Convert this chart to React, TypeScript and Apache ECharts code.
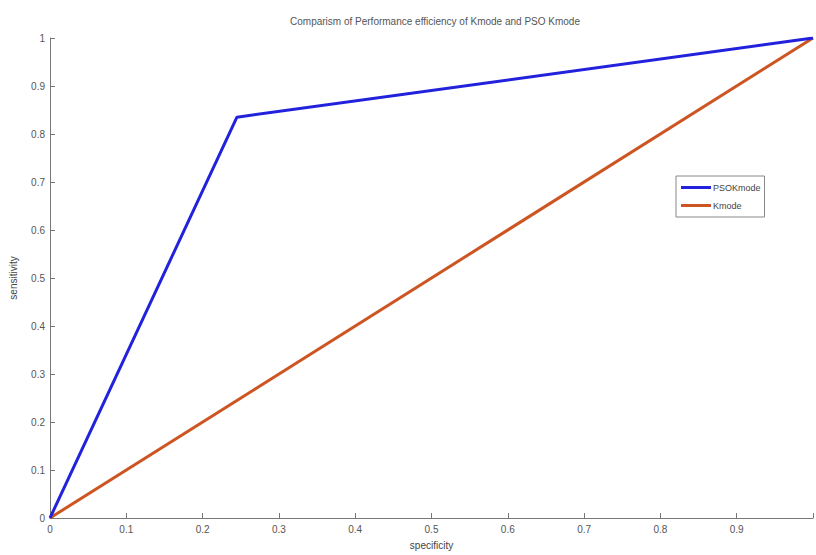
import React, { useEffect, useRef } from "react";
import * as echarts from "echarts";

const titleText = "Comparism of Performance efficiency of Kmode and PSO Kmode";
const xName = "specificity";
const yName = "sensitivity";
const psoX = [0, 0.245, 1];
const psoY = [0, 0.835, 1];
const kmodeX = [0, 1];
const kmodeY = [0, 1];
const seriesNames = ["PSOKmode", "Kmode"];

export default function App() {
  const ref = useRef<HTMLDivElement>(null);
  useEffect(() => {
    if (!ref.current) return;
    const chart = echarts.init(ref.current, undefined, { renderer: "svg" });
    const font = "'Liberation Sans Narrow', 'Liberation Sans', Arial, sans-serif";
    chart.setOption({
      animation: false,
      backgroundColor: "#ffffff",
      textStyle: { fontFamily: font },
      title: {
        text: titleText,
        left: 430,
        textAlign: "center",
        top: 11,
        textStyle: { fontSize: 10, fontWeight: "normal", color: "#555", fontFamily: font },
      },
      legend: {
        data: seriesNames,
        orient: "vertical",
        left: 676,
        top: 176,
        itemWidth: 30,
        itemHeight: 3,
        itemGap: 9,
        padding: [7, 4, 7, 5],
        borderColor: "#888",
        borderWidth: 1,
        icon: "rect",
        textStyle: { fontSize: 9, color: "#444", fontFamily: font, padding: [0, 0, 0, -3] },
      },
      grid: { left: 47, right: 1, top: 38, bottom: 34, containLabel: false },
      xAxis: {
        type: "value",
        min: 0,
        max: 1,
        interval: 0.1,
        name: xName,
        nameLocation: "middle",
        nameGap: 22,
        nameTextStyle: { fontSize: 10, color: "#444", fontFamily: font },
        axisLine: { show: true, lineStyle: { color: "#777", width: 1 } },
        axisTick: { show: true, inside: true, length: 5, lineStyle: { color: "#777" } },
        axisLabel: {
          fontSize: 10,
          color: "#555",
          margin: 6,
          fontFamily: font,
          formatter: (v: number) => (v >= 1 ? "" : String(Math.round(v * 10) / 10)),
        },
        splitLine: { show: false },
      },
      yAxis: {
        type: "value",
        min: 0,
        max: 1,
        interval: 0.1,
        name: yName,
        nameLocation: "middle",
        nameGap: 32,
        nameTextStyle: { fontSize: 10, color: "#444", fontFamily: font },
        axisLine: { show: true, lineStyle: { color: "#777", width: 1 } },
        axisTick: { show: true, inside: true, length: 5, lineStyle: { color: "#777" } },
        axisLabel: {
          fontSize: 10,
          color: "#555",
          margin: 5,
          fontFamily: font,
          formatter: (v: number) => String(Math.round(v * 10) / 10),
        },
        splitLine: { show: false },
      },
      series: [
        {
          name: seriesNames[0],
          type: "line",
          data: psoX.map((x, i) => [x, psoY[i]]),
          showSymbol: false,
          lineStyle: { color: "#2222dd", width: 3 },
          itemStyle: { color: "#2222dd" },
          z: 3,
        },
        {
          name: seriesNames[1],
          type: "line",
          data: kmodeX.map((x, i) => [x, kmodeY[i]]),
          showSymbol: false,
          lineStyle: { color: "#cc5522", width: 3 },
          itemStyle: { color: "#cc5522" },
          z: 2,
        },
      ],
    });
    return () => chart.dispose();
  }, []);
  return <div ref={ref} style={{ width: 816, height: 555, position: "absolute", left: 0, top: 0 }} />;
}
